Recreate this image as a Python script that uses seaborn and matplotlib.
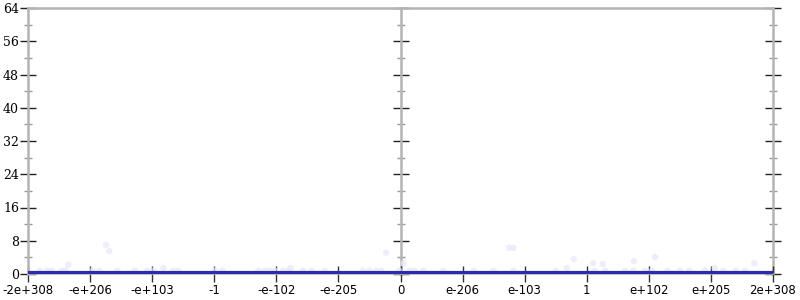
import matplotlib
matplotlib.use("Agg")
import matplotlib.pyplot as plt
import seaborn as sns
import numpy as np
import pandas as pd
from matplotlib.ticker import MultipleLocator

sns.set_theme(style="white")
plt.rcParams['font.family'] = ['DejaVu Sans']

# tick positions (index units) and labels
tick_pos = [-6, -5, -4, -3, -2, -1, 0, 1, 2, 3, 4, 5, 6]
tick_labels = ["-2e+308", "-e+206", "-e+103", "-1", "-e-102", "-e-205", "0",
               "e-206", "e-103", "1", "e+102", "e+205", "2e+308"]

# main series (near zero over the whole range)
line_x = [-6, -5, -4, -3, -2, -1, 0, 1, 2, 3, 4, 5, 6]
line_y = [0.2, 0.2, 0.2, 0.2, 0.2, 0.2, 0.2, 0.2, 0.2, 0.2, 0.2, 0.2, 0.2]

# faint scattered samples
pts_x = [-4.74, -4.69, -5.35, -3.82, -5.81, -5.69, -5.62, -5.46, -5.40, -4.96, -4.85,
         -4.56, -4.28, -4.08, -3.98, -3.66, -3.58,
         -0.23, 0.05, -1.77, -2.99, -2.87, -2.29, -2.18, -2.10, -2.02, -1.89, -1.81,
         -1.57, -1.43, -1.22, -0.61, -0.50, -0.39, -0.31, -0.02, 0.15, 0.23,
         1.75, 1.82, 2.79, 3.10, 3.26, 2.68,
         0.37, 0.69, 1.18, 1.50, 1.82, 2.50, 3.12, 3.30, 3.62, 3.75, 3.94, 4.05,
         4.10, 3.76, 5.70, 5.06,
         4.30, 4.50, 4.65, 4.90, 5.20, 5.40, 5.55]
pts_y = [7.0, 5.5, 2.2, 1.5, 0.8, 0.8, 0.8, 0.8, 0.8, 0.8, 0.8,
         0.8, 0.8, 0.8, 0.8, 0.8, 0.8,
         5.1, 2.6, 1.4, 0.8, 0.8, 0.8, 0.8, 0.8, 0.8, 0.8, 0.8,
         0.8, 0.8, 0.8, 0.8, 0.8, 0.8, 0.8, 0.8, 0.8, 0.8,
         6.3, 6.3, 3.6, 2.6, 2.4, 1.4,
         0.8, 0.8, 0.8, 0.8, 0.8, 0.8, 0.8, 0.8, 0.8, 0.8, 0.8, 0.8,
         4.1, 3.1, 2.6, 1.4,
         0.8, 0.8, 0.8, 0.8, 0.8, 0.8, 0.8]

fig = plt.figure(figsize=(8, 3), dpi=100)
pos = [28 / 800, 26 / 300, 745 / 800, 266 / 300]

grey = "#b4b4b4"

# additional vertical axes at center and right edge (drawn beneath main axes)
for frac in (0.5, 1.0):
    axo = fig.add_axes(pos)
    axo.patch.set_visible(False)
    for s in ["top", "bottom", "right"]:
        axo.spines[s].set_visible(False)
    axo.spines["left"].set_position(("axes", frac))
    axo.spines["left"].set_color(grey)
    axo.spines["left"].set_linewidth(1.8)
    axo.set_xticks([])
    axo.set_ylim(0, 64)
    axo.yaxis.set_major_locator(MultipleLocator(8))
    axo.yaxis.set_minor_locator(MultipleLocator(4))
    axo.tick_params(axis="y", which="major", direction="inout", length=11, width=1,
                    color="#222222", labelleft=False, left=True)
    axo.tick_params(axis="y", which="minor", direction="inout", length=6, width=1,
                    color="#999999", left=True)

ax = fig.add_axes(pos)
ax.patch.set_visible(False)

sns.scatterplot(x=pts_x, y=pts_y, ax=ax, s=22, color="#e8e8f8", edgecolor="none",
                alpha=0.7, zorder=2)
sns.lineplot(x=line_x, y=line_y, ax=ax, color="#2b2bb0", linewidth=3.0, zorder=3,
             solid_capstyle="butt")

ax.set_xlim(-6, 6)
ax.set_ylim(0, 64)

for s in ["left", "top"]:
    ax.spines[s].set_color(grey)
    ax.spines[s].set_linewidth(1.8)
ax.spines["bottom"].set_color(grey)
ax.spines["bottom"].set_linewidth(1.2)
ax.spines["right"].set_visible(False)

ax.set_xticks(tick_pos)
ax.set_xticklabels(tick_labels, fontsize=8.5)
ax.yaxis.set_major_locator(MultipleLocator(8))
ax.yaxis.set_minor_locator(MultipleLocator(4))
for lab in ax.get_yticklabels():
    lab.set_fontfamily("DejaVu Serif")
    lab.set_fontsize(9)
ax.tick_params(axis="y", which="major", direction="inout", length=11, width=1,
               color="#222222", pad=1, labelcolor="black", left=True)
ax.tick_params(axis="x", which="major", direction="inout", length=12, width=1,
               color="#333333", pad=1, labelcolor="black", bottom=True)
ax.tick_params(axis="y", which="minor", direction="inout", length=6, width=1,
               color="#999999", left=True)
ax.set_xlabel("")
ax.set_ylabel("")

fig.patch.set_facecolor("white")
fig.savefig("out.png", dpi=100, facecolor="white")
